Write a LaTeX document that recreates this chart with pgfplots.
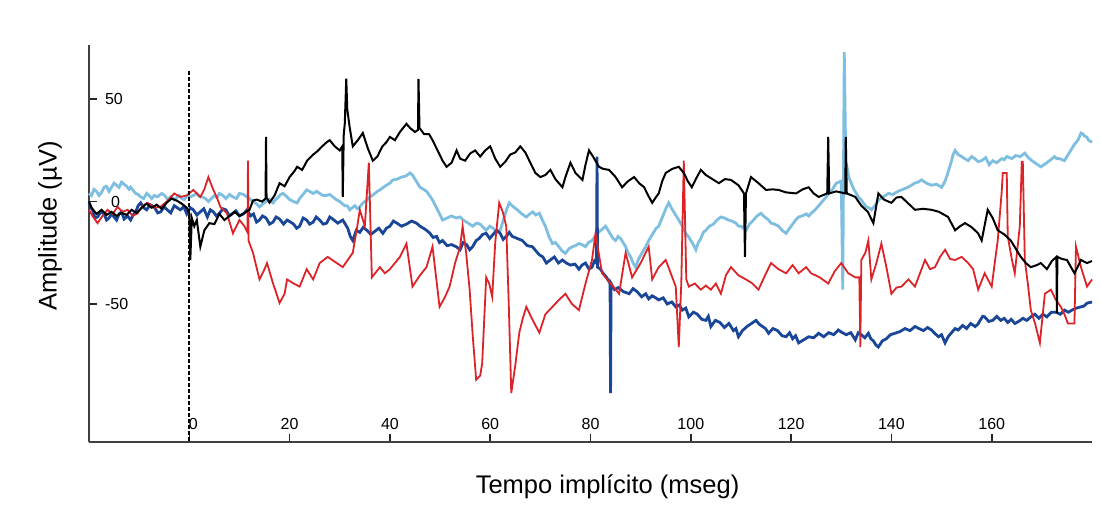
\documentclass[border=0pt]{standalone}
\usepackage{pgfplots}
\pgfplotsset{compat=1.18}
\usepackage{fontspec}
\setmainfont{Liberation Sans}
\definecolor{lblue}{RGB}{125,190,225}
\definecolor{dblue}{RGB}{25,70,150}
\definecolor{tred}{RGB}{220,35,40}
\begin{document}
\begin{tikzpicture}
\begin{axis}[
  scale only axis, width=501.5pt, height=198.5pt,
  xmin=-20, xmax=180, ymin=-117.4, ymax=76.5,
  axis x line*=bottom, axis y line*=left,
  axis line style={-, color=black!75, line width=0.7pt},
  xtick={0,20,40,60,80,100,120,140,160},
  xticklabels={\hspace*{4pt}0,20,40,60,80,100,120,140,160},
  ytick={-50,0,50}, yticklabels={-50,\hspace*{3pt}0,50},
  tick align=inside, major tick length=4pt,
  tick style={black!85, line width=0.8pt},
  xticklabel style={anchor=south, yshift=2.5pt, font=\fontsize{8}{9}\selectfont},
  yticklabel style={anchor=west, xshift=4.5pt, font=\fontsize{8}{9}\selectfont},
  xlabel={Tempo implícito (mseg)}, ylabel={Amplitude (µV)},
  label style={font=\fontsize{12.75}{15}\selectfont},
  xlabel style={at={(axis description cs:0.517,-0.1134)}, anchor=center},
  ylabel style={at={(axis description cs:-0.0389,0.544)}, anchor=center},
  clip=false,
]
% light blue
\addplot[lblue, line width=1.4pt] coordinates {
(-20,4) (-19.5,3) (-19,6) (-18.5,5) (-18,3) (-17.5,4.5) (-17,7) (-16.5,7.5) (-16,5) (-15.5,7) (-15,9) (-14.5,8) (-14,7) (-13.5,9.5) (-13,8.5) (-12.5,7.5) (-12,6) (-11.7,7) (-11.2,5.5) (-10.7,4) (-10.2,3.5) (-9.7,2.3) (-9.1,1.5) (-8.5,4) (-8,3) (-7.5,1.5) (-7,3) (-6.4,2.3) (-6,3) (-5.5,4) (-4.9,3) (-4.3,1) (-3.6,2.5) (-3,0.8) (-2.5,2) (-2,3) (-1.5,1.5) (-1,1) (-0.4,3) (0.2,2.3) (0.8,3) (1.5,4) (2,2.5) (2.6,2.3) (3.2,1.5) (3.8,0) (4.4,1.5) (5,3) (5.5,2) (6,4) (6.7,3) (7.3,1.5) (8,3.5) (8.7,2.3) (9.4,1.5) (10,4) (10.8,3.5) (11.5,2.3) (12.2,1) (12.8,0) (13.4,-1) (14,-2.6) (14.7,-1) (15.3,0) (16,1) (16.7,-0.6) (17.2,1) (17.7,2) (18.2,3.5) (18.7,4) (19.4,2.5) (20,1) (20.8,0) (21.5,-0.6) (22,1.5) (22.5,3) (23,4.5) (23.4,5.7) (24,5) (24.7,4) (25.4,5) (26,4) (26.7,3) (27.3,3) (28,3.5) (28.6,2.3) (29.3,1) (30,0) (30.5,-1) (31,-2) (31.5,-2) (32,-4) (32.5,-3) (33,-2) (33.5,-3.5) (34,-2.6) (34.5,-1) (35,0) (35.5,1) (36,2.3) (36.5,3) (37,4) (37.5,5) (38,5.7) (38.7,7) (39.3,8) (40,9) (40.6,10.6) (41.5,11) (42.3,12) (43.2,12.5) (44,14) (44.5,13) (45,11) (45.5,9) (46,7) (46.7,6) (47.3,5) (47.9,3) (48.5,0.8) (49,-1.5) (49.5,-4) (50,-6.5) (50.5,-9) (51.4,-8) (52.3,-7) (53.2,-8) (54,-7.5) (54.6,-9) (55.3,-10) (55.9,-11) (56.5,-12) (57.3,-10.5) (58,-11) (58.6,-12.5) (59.2,-14) (59.9,-12) (60.6,-13) (61.3,-15) (62,-14) (62.5,-10) (63,-6) (63.4,-3) (63.8,-0.6) (64.6,-2.5) (65.4,-4) (66.3,-6) (67.2,-7.5) (67.9,-6) (68.5,-5) (69.1,-6.5) (69.8,-5.7) (70.4,-9) (71,-12) (71.7,-17) (72.4,-20.5) (73,-20) (73.7,-22) (74.3,-24) (75,-25.3) (75.7,-23) (76.4,-22) (77,-21.5) (77.7,-20.5) (78.3,-21) (79,-22) (79.6,-20) (80.3,-19) (80.9,-17) (81.6,-15) (82.3,-13.5) (83,-12) (83.5,-14) (84,-16) (84.5,-18) (85,-19) (85.5,-17) (86,-18) (86.5,-20) (87,-22) (87.5,-25) (88,-27) (88.5,-30) (89,-32) (89.6,-28) (90.3,-25) (91,-22) (91.6,-19) (92.1,-17) (92.6,-15) (93.1,-13) (93.6,-12) (94.1,-9) (94.6,-6) (95.1,-3) (95.6,-0.6) (96.1,-3) (96.6,-5) (97.1,-7) (97.6,-9) (98.3,-12) (99,-15.5) (99.5,-17) (100,-19) (100.5,-21) (101,-23.5) (101.5,-20) (102,-18) (102.5,-15) (103,-14) (103.7,-12) (104.5,-11) (105.2,-9) (106,-7.5) (106.7,-8) (107.5,-9) (108.2,-9.5) (109,-10.5) (109.5,-12) (110,-12) (110.5,-13) (111,-14) (111.7,-11) (112.5,-9) (113.2,-7) (114,-5.7) (114.5,-7) (115,-8) (115.5,-9) (116,-10.5) (116.7,-11) (117.5,-12) (118.2,-14) (119,-15.5) (119.7,-13) (120.3,-11) (120.9,-9) (121.5,-7.5) (122.2,-7) (123,-6) (123.5,-7) (124,-5.7) (124.8,-4) (125.5,-2) (126.2,0) (127,2.3) (127.5,4) (128,5) (128.5,7) (129,9) (129.5,9.5) (130,10) (130.3,-43) (130.6,73) (130.9,20) (131.5,12) (132,9) (132.5,6) (133,4) (133.5,2) (134,0.8) (134.5,-1) (135,-2.6) (135.5,-3) (136,-4) (136.7,-2) (137.5,1) (138.5,2.5) (139.4,4) (140.3,3.5) (141.3,5) (142.3,6) (143.3,7) (144,8) (144.6,9) (145.3,9.5) (146,10.6) (147,9) (148,8) (149,8.5) (150,7) (150.5,9) (151,12) (151.5,16) (152,20) (152.3,23) (152.7,25) (153.3,23) (154,22) (154.6,21) (155.3,20) (156,22) (156.6,21) (157.3,19.5) (158,20) (158.8,21.5) (159.5,18) (160.2,20) (161,19) (161.5,20) (162,21) (162.5,20.5) (163,22) (164,21) (164.8,22.5) (165.7,22) (166.6,23.7) (167.3,21.5) (168,20) (168.9,18.5) (169.8,17) (170.4,18) (171,19) (171.8,20.5) (172.5,22) (173,21) (173.5,21) (174,20.5) (174.5,20) (175,22) (175.5,24) (176,26) (176.5,28) (177.2,30) (177.8,33.5) (178.2,33) (178.5,32) (179,31.5) (179.3,30) (180,29)
};
% dark blue
\addplot[dblue, line width=1.4pt] coordinates {
(-20,-0.6) (-19.6,-3) (-19.3,-4) (-18.8,-8) (-18.3,-7.5) (-17.6,-5) (-17,-6) (-16.5,-9) (-16,-8) (-15.5,-6) (-15,-7.5) (-14.5,-9) (-14,-6) (-13.5,-5) (-13,-8.5) (-12.3,-7) (-11.7,-9) (-11.2,-6.5) (-10.7,-5) (-10.2,-2) (-9.7,-0.6) (-9.1,-3) (-8.5,-4) (-7.8,-1.5) (-7,-2.6) (-6.3,-5.5) (-5.7,-5) (-5,-2.5) (-4.4,-4) (-3.7,-5.5) (-3,-2) (-2.4,-3) (-1.8,-4) (-1.1,-2.5) (-0.5,-6) (0.2,-3) (0.8,-4) (1.5,-6.5) (2.2,-5) (2.9,-3.5) (3.6,-7.5) (4.2,-4) (4.8,-5) (5.4,-7) (6,-5.7) (6.7,-3.5) (7.3,-4) (8,-7) (8.7,-5.7) (9.3,-4.5) (10,-7) (10.8,-6) (11.5,-4) (12.2,-7) (12.8,-6) (13.4,-10) (14,-9) (14.6,-7) (15.3,-8) (16,-11) (16.7,-10) (17.3,-7.5) (18,-8.5) (18.8,-11) (19.5,-9) (20.2,-10) (20.8,-11) (21.4,-13) (22,-12) (22.7,-8) (23.4,-9) (24,-11) (24.7,-10) (25.3,-7.5) (26,-9) (26.7,-11) (27.4,-10.5) (28,-7.5) (28.6,-8.5) (29.6,-10.5) (30.6,-9) (31.1,-11) (31.6,-13) (32.1,-17) (32.6,-19) (33.3,-14) (34,-15) (34.7,-12.5) (35.4,-14) (36.2,-16) (37,-14.5) (37.8,-13) (38.6,-15.5) (39.3,-13) (40,-12) (40.7,-9.5) (41.4,-10.5) (42.3,-12) (43.3,-11) (44.3,-9.5) (45.3,-10.5) (46,-12) (46.7,-13) (47.3,-14) (48,-15.5) (48.6,-17.5) (49.3,-17) (49.9,-20) (50.5,-19) (51.4,-21.5) (52.3,-21) (53.2,-22) (54,-23.5) (54.6,-20) (55.3,-21) (55.9,-23.5) (56.5,-22) (57.2,-19) (57.8,-18) (58.5,-16) (59.2,-15.5) (59.9,-18) (60.6,-16) (61.3,-14) (62,-15.5) (62.6,-18.5) (63.2,-17) (63.8,-15) (64.4,-17) (65.4,-18) (66.4,-19) (67.4,-21.5) (68.4,-22) (69.1,-24) (69.8,-26) (70.5,-27) (71.2,-30) (72,-28.5) (72.8,-27) (73.6,-30) (74.4,-28.5) (75.2,-30) (76,-31) (76.9,-30.5) (77.7,-33) (78.3,-31) (79,-30) (79.7,-33) (80.3,-32) (80.8,-29) (81.2,-30) (81.3,22) (81.4,-32) (82,-33) (82.5,-35) (83.2,-37) (83.9,-40) (84,-93.5) (84.1,-40) (84.8,-43) (85.5,-42) (86.6,-44) (87.7,-45) (88.5,-42.5) (89.3,-44) (90.2,-46.5) (91,-45) (91.6,-47.5) (92.3,-46) (93,-47) (93.6,-48) (94.5,-47) (95.3,-50) (96.2,-49) (97,-51.4) (97.7,-50.5) (98.3,-53) (99,-52) (99.6,-56.3) (100.5,-54) (101.3,-55) (102.2,-57.5) (103,-58) (103.5,-56) (104,-61) (104.9,-58) (105.8,-59) (106.7,-61.5) (107.6,-59.5) (108,-61) (108.5,-63) (109,-62) (109.5,-66) (110.3,-63) (111.2,-61) (112.1,-59.5) (113,-58) (113.7,-60) (114.3,-61) (114.9,-62) (115.5,-64.3) (116.4,-62) (117.3,-63) (118.2,-65.5) (119,-66) (119.7,-64) (120.3,-67) (120.9,-65.5) (121.5,-69) (122.5,-67.5) (123.5,-66) (124.5,-66.5) (125.5,-64.3) (126.5,-66) (127.5,-64) (128.5,-65) (129.4,-62.7) (130.2,-64) (131,-65) (131.9,-64) (132.8,-67.5) (133.4,-64) (134,-65) (134.7,-66.5) (135.4,-64.3) (135.9,-67) (136.4,-68) (136.9,-70) (137.4,-71) (138.2,-68) (139,-67) (139.8,-65) (140.7,-64.3) (141.7,-63.5) (142.7,-62) (143.7,-63) (144.7,-61) (145.5,-62) (146.4,-63) (147.2,-61.5) (148,-62.7) (148.7,-64.5) (149.4,-66) (150,-65) (150.7,-69) (151.3,-66) (152,-64) (152.7,-62) (153.3,-62.7) (154.2,-60.5) (155,-62) (155.8,-59.5) (156.7,-61) (157.2,-60) (157.7,-58) (158.2,-56) (158.6,-56.3) (159.4,-58.5) (160.2,-58) (161,-56) (161.8,-58) (162.5,-57) (163.2,-59) (163.9,-57.5) (164.6,-59.5) (165.4,-58.5) (166.2,-57) (167,-58) (167.8,-56.3) (168.6,-55) (169.4,-57) (170.2,-55) (171,-56.3) (171.9,-54) (172.8,-54) (173.7,-55) (174.5,-53) (175.3,-54) (176,-53) (176.9,-52) (177.8,-51.4) (178.4,-51) (179,-49.6) (180,-49)
};
% red
\addplot[tred, line width=0.9pt] coordinates {
(-20,-4) (-19.3,-7) (-18.3,-10.5) (-17.3,-7) (-16.3,-4) (-15.3,-6) (-14.3,-2.6) (-13.3,-5) (-12.3,-4) (-11.3,-7) (-10.3,-5.7) (-9.3,-2) (-8.3,-0.6) (-7,-3) (-5.8,-2.6) (-4.5,0) (-3,4) (-1.8,2.3) (-0.5,3) (0.8,5.7) (2.2,2.3) (3,6) (3.8,12) (4.8,5.7) (5.5,2) (6.2,-2.6) (7.5,-5.7) (8.7,-15.5) (10,-9) (11,-12) (11.6,-15) (11.7,20) (11.8,-19) (12.7,-25) (14,-38) (15,-33) (15.5,-30) (16.7,-40) (18,-49.5) (19,-45) (19.5,-38) (20.8,-40) (22,-41.5) (23.4,-33) (24.7,-38) (26,-30) (27.6,-27) (28.8,-29) (30.6,-32) (32.6,-25) (33.5,-12) (34,-4) (35,-12) (35.8,19) (36.4,-37) (38,-32) (39,-35) (40,-33) (41,-30) (42,-27) (43.3,-20.5) (44.5,-41.5) (46,-36) (47.3,-32) (48.5,-22) (49.9,-51.4) (50.9,-47) (51.9,-41.5) (53,-30) (54,-22) (54.5,-12) (55.2,-25) (55.9,-43) (56.5,-65) (57.2,-87) (58,-85) (58.4,-79) (59.2,-37) (59.8,-40) (60.4,-46.5) (61,-20) (61.8,-0.6) (62.5,-5) (63.2,-12) (63.7,-50) (64.2,-93.5) (65,-80) (65.8,-64) (66.5,-57) (67.2,-51.4) (68.5,-58) (69.8,-64) (71,-55) (72.4,-51.4) (73.7,-48) (75,-45) (76.3,-50) (77.7,-53) (79,-40) (80.3,-28.5) (81,-15.5) (82.3,-35) (84,-40) (85.7,-45) (87,-25) (88.3,-37) (90,-30) (91.6,-22) (92.3,-38) (93.6,-32) (95,-28.5) (96,-35) (97,-41.5) (97.6,-71) (98.1,-40) (98.6,20) (99.1,-38) (99.6,-41.5) (100.8,-40) (102,-43) (103,-41) (104,-43) (105,-40) (106,-45) (107,-36) (108,-32) (109.5,-36) (111,-38) (112.3,-40) (113.5,-43) (114.8,-36) (116,-30) (117.5,-33) (119,-35) (120.3,-31) (121.5,-35) (123,-32) (124,-35) (125.7,-37) (127.4,-40) (128.7,-34) (130,-30) (131.4,-35) (132.8,-37) (133.6,-37) (133.8,-71) (134,-28.5) (134.8,-25) (135.4,-19) (136,-38) (137,-30) (138,-20.5) (139,-32) (140,-45) (141,-42) (142,-41.5) (143.4,-38) (144.7,-41.5) (145.7,-35) (146.7,-28.5) (147.7,-33) (148.7,-32) (149.7,-27) (150.7,-23.5) (151.7,-28) (152.7,-28.5) (154,-27) (155.3,-30) (156.3,-33) (157.3,-43) (158.6,-35) (160,-41.5) (160.6,-30) (161.2,-19) (162,5) (162.2,14) (163,14) (163.2,-17) (164,-28) (164.6,-35) (165.6,-12) (166,19.5) (166.2,19.5) (166.6,-28.5) (167.2,-40) (167.8,-53) (168.7,-60) (169.6,-69) (170.6,-45) (171.8,-43) (172.8,-48) (173.8,-51.4) (174.5,-55) (175.2,-59.5) (176.5,-59.5) (176.8,-22) (177.8,-32) (179,-41.5) (180,-38)
};
% black
\addplot[black, line width=1pt] coordinates {
(-20,0) (-19.5,-3) (-18.5,-6) (-17.5,-4) (-16.5,-6.5) (-15.5,-5) (-14.5,-7) (-13.5,-5.5) (-12.5,-6.5) (-11.5,-4) (-10.5,-5.5) (-9.5,-3) (-8.5,-1) (-7.5,-3) (-6.5,-1.5) (-5.5,-3.5) (-4.5,-0.5) (-3.5,1.5) (-2.5,0.5) (-1.5,-1) (-0.5,-3) (0,-6) (0.2,-28.5) (0.5,-8) (1,-12) (1.5,-9) (2.2,-22) (3,-14) (4,-10.5) (5,-11) (6,-6) (7,-9) (8,-7) (9,-5) (10,-7) (11,-5.5) (12,-4) (12.7,0.5) (13.5,1) (14.5,0) (15.2,1.5) (15.3,31.6) (15.4,2) (16,-0.5) (17,3) (18,9) (19,7.5) (20,12) (21,15) (21.5,17) (22.5,15.5) (23.5,20) (24.7,23) (25.5,24.5) (26.5,27) (27.4,29) (28,30) (29,27) (30,25) (30.5,27) (30.6,2.3) (30.8,33) (31,38) (31.3,60) (31.5,45) (32,36) (32.6,27) (33.6,30) (34.6,33.5) (35.6,26) (36.6,20) (37.5,22) (38.5,27) (39.3,29) (40,31.6) (41,30) (42,34) (43.3,38) (44,36) (45,34) (45.6,35) (45.7,60) (45.9,36) (46.8,33) (47.8,33) (48.5,30) (49.5,25) (50.5,20) (51.3,17) (52.3,19) (53.3,25) (54,21) (55,20) (56,23.5) (57,25) (58,22) (59,25) (60,27) (61,21) (62,17) (63,19.5) (64,23) (65,24) (66,27) (67,24) (68,19) (69,14) (70,12) (71,13) (72,15.5) (73,11) (74.4,7) (75,12) (76,19) (77,14) (78.4,10.6) (79,18) (79.7,25) (80.5,22) (81.7,17) (82.5,16) (83.7,15.5) (85,12) (86.3,7) (87.5,10) (88.7,12) (89.7,9) (90.7,7) (91.5,3) (92.3,-0.6) (93,2) (93.6,4) (94.3,10) (95,14) (96.3,16) (97.6,17) (98.6,14) (99.4,10) (100.2,7) (101,11) (102,15.5) (103,13) (104.3,11) (105.6,9) (106.8,11) (108,10.6) (109.5,8) (110.6,4) (110.8,-27) (111,4) (112,12) (113.5,9) (115,5.7) (116.3,6) (117.5,5.7) (119,4.5) (121,4) (122.3,6) (123.5,7) (124.5,4) (125.5,2.3) (127.2,4) (127.4,31.6) (127.6,4) (129,5) (130.8,4) (130.9,31.6) (131.1,4) (132.8,2.3) (134,-2) (135.3,-5) (136.4,-10.5) (137.4,4) (138.5,1) (140,-0.6) (141,2) (142,2.3) (143.4,-1) (144.7,-4) (146.3,-3.5) (148,-4) (149.5,-5) (151.3,-7.5) (152.7,-14) (153.7,-12) (154.7,-10.5) (156,-12.5) (157.3,-15.5) (158,-19) (159.2,-4) (160.2,-8) (161.2,-14) (162.5,-16) (163.8,-19) (164.8,-23) (165.8,-27) (166.8,-30) (167.8,-32) (169,-31) (169.8,-30) (171,-33) (172,-29) (172.9,-27) (173,-54.5) (173.1,-27) (174,-28) (175,-28.5) (176.5,-35) (177.8,-28.5) (179,-30) (180,-29)
};
% stimulus onset
\addplot[black, line width=1pt, dash pattern=on 2pt off 1pt] coordinates {(0,64) (0,-117.4)};
\end{axis}
\pgfresetboundingbox
\path[use as bounding box] ([xshift=-44.5pt,yshift=-32.5pt]current axis.south west) rectangle ([xshift=4.5pt,yshift=22.5pt]current axis.north east);
\end{tikzpicture}
\end{document}
